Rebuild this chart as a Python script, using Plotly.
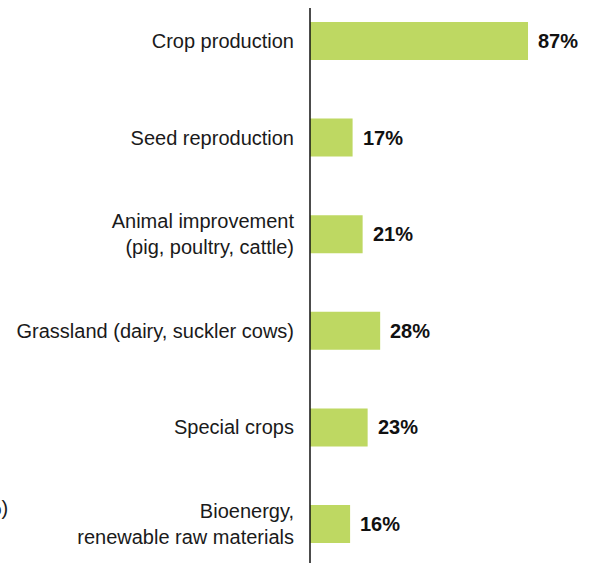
import plotly.graph_objects as go

# Share of respondents by production area
categories = [
    "Crop production",
    "Seed reproduction",
    "Animal improvement<br>(pig, poultry, cattle)",
    "Grassland (dairy, suckler cows)",
    "Special crops",
    "Bioenergy,<br>renewable raw materials",
]
values = [87, 17, 21, 28, 23, 16]

W, H = 596, 563
AXIS_X = 310          # pixel position of the value axis
PX_PER_UNIT = 2.506   # horizontal pixels per percentage point
ROW = 96.6            # vertical pixels per category
FIRST_Y = 41          # pixel centre of the first category
FONT = "Liberation Sans, Arial, sans-serif"

positions = list(range(len(categories)))
y_top = -FIRST_Y / ROW
y_bottom = y_top + H / ROW

fig = go.Figure(
    go.Bar(
        x=values,
        y=positions,
        orientation="h",
        width=0.393,
        marker=dict(color="#BED862", line=dict(width=0)),
        cliponaxis=False,
        hoverinfo="x+y",
    )
)

# bold value labels just past each bar end
value_labels = [
    dict(
        x=v, y=p, xref="x", yref="y",
        text=f"<b>{v}%</b>", showarrow=False,
        xanchor="left", yanchor="middle", xshift=8,
        font=dict(family=FONT, size=20, color="#111111"),
    )
    for v, p in zip(values, positions)
]

fig.update_layout(
    width=W,
    height=H,
    margin=dict(l=AXIS_X, r=0, t=0, b=0),
    paper_bgcolor="white",
    plot_bgcolor="white",
    showlegend=False,
    font=dict(family=FONT, size=20, color="#1a1a1a"),
    xaxis=dict(
        range=[0, (W - AXIS_X) / PX_PER_UNIT],
        visible=False,
        fixedrange=True,
    ),
    yaxis=dict(
        range=[y_bottom, y_top],
        tickmode="array",
        tickvals=positions,
        ticktext=categories,
        ticks="",
        showline=False,
        showgrid=False,
        zeroline=False,
        ticklabelstandoff=15,
        automargin=False,
        tickfont=dict(size=20, color="#1a1a1a"),
    ),
    shapes=[
        dict(
            type="line", xref="paper", yref="paper",
            x0=0, x1=0, y0=0, y1=1 - 8 / H,
            line=dict(color="#111111", width=1.5),
        )
    ],
    annotations=value_labels + [
        dict(
            text="(%)", xref="paper", yref="paper",
            x=(10 - AXIS_X) / (W - AXIS_X), y=1 - 508 / H,
            xanchor="right", yanchor="middle", showarrow=False,
            font=dict(size=20, color="#1a1a1a"),
        )
    ],
)

fig.write_html("out.html")
